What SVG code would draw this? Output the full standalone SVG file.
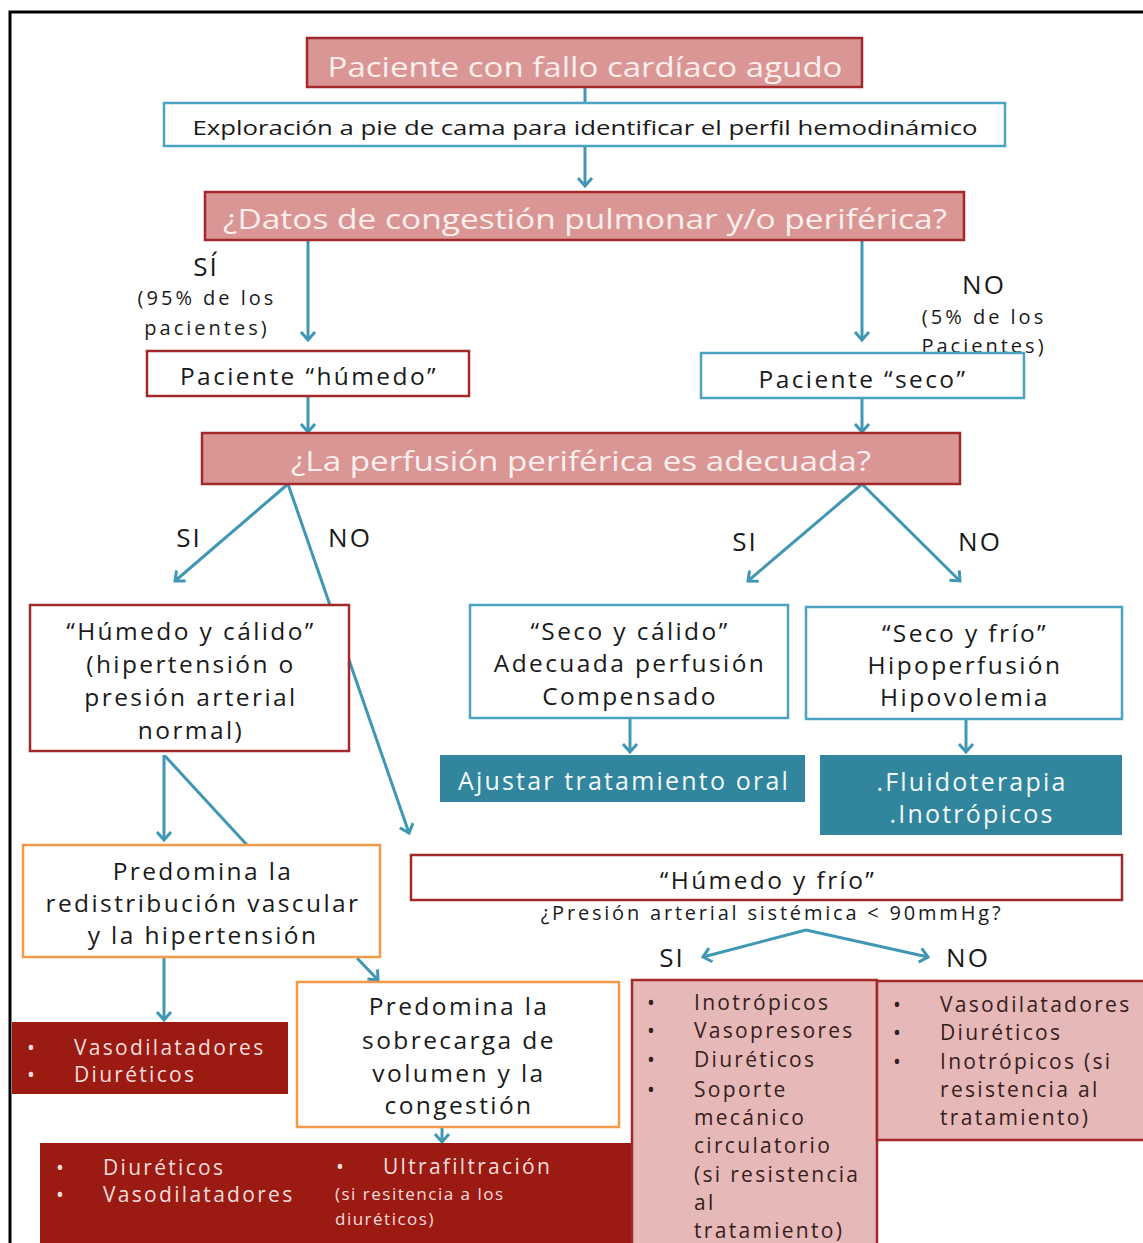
<svg xmlns="http://www.w3.org/2000/svg" width="1143" height="1243" viewBox="0 0 1143 1243">
<style>
text{font-family:"Open Sans","Noto Sans","DejaVu Sans",sans-serif;fill:#1a1a1a;letter-spacing:2.4px}
.hdr{fill:#d99694;stroke:#a3282a;stroke-width:2.5}
.hdrt{fill:#fcefee;font-size:27px;text-anchor:middle;letter-spacing:0}
.blue{fill:#fff;stroke:#4aa3c0;stroke-width:2.5}
.red{fill:#fff;stroke:#a3282a;stroke-width:2.5}
.org{fill:#fff;stroke:#f2994a;stroke-width:2.5}
.teal{fill:#31859c}
.tealt{fill:#f4fafc;font-size:25px;text-anchor:middle;letter-spacing:2.2px}
.dark{fill:#9b1a12}
.darkt{fill:#f4dedd;font-size:21px;letter-spacing:2.3px}
.pink{fill:#e6b8b7;stroke:#a3282a;stroke-width:2.5}
.pinkt{fill:#352020;font-size:21px;letter-spacing:2.3px}
.c{text-anchor:middle}
.t23{font-size:24.5px}
.lbl{font-size:26px;letter-spacing:2px}
.small{font-size:20px;letter-spacing:3px}
.tiny{font-size:17px;letter-spacing:1.5px}
.nols{letter-spacing:0}
.q{font-size:20px;letter-spacing:2.8px}
.con{stroke:#3f97b4;stroke-width:3;fill:none}
.arr{marker-end:url(#ah)}
</style>
<defs>
<marker id="ah" markerUnits="userSpaceOnUse" markerWidth="16" markerHeight="18" refX="10" refY="9" orient="auto">
<path d="M2,2 L10,9 L2,16" fill="none" stroke="#3f97b4" stroke-width="3"/>
</marker>
</defs>
<rect width="1143" height="1243" fill="#fff"/>
<path d="M10,1243 L10,12 L1143,12" fill="none" stroke="#000" stroke-width="3"/>

<g id="connectors">
<line class="con" x1="585" y1="87" x2="585" y2="103"/>
<line class="con arr" x1="585" y1="146" x2="585" y2="186"/>
<line class="con arr" x1="308" y1="240" x2="308" y2="340"/>
<line class="con arr" x1="862" y1="240" x2="862" y2="340"/>
<line class="con arr" x1="308" y1="396" x2="308" y2="432"/>
<line class="con arr" x1="862" y1="398" x2="862" y2="432"/>
<line class="con arr" x1="288" y1="484" x2="175" y2="581"/>
<line class="con arr" x1="288" y1="484" x2="409" y2="833"/>
<line class="con arr" x1="862" y1="484" x2="748" y2="581"/>
<line class="con arr" x1="862" y1="484" x2="960" y2="581"/>
<line class="con arr" x1="630" y1="718" x2="630" y2="752"/>
<line class="con arr" x1="966" y1="719" x2="966" y2="752"/>
<line class="con arr" x1="164" y1="755" x2="164" y2="840"/>
<line class="con" x1="165" y1="756" x2="247" y2="845"/>
<line class="con arr" x1="164" y1="958" x2="164" y2="1020"/>
<line class="con arr" x1="357" y1="958" x2="378" y2="980"/>
<line class="con arr" x1="442" y1="1127" x2="442" y2="1142"/>
<line class="con arr" x1="806" y1="930" x2="703" y2="957"/>
<line class="con arr" x1="806" y1="930" x2="928" y2="957"/>
</g>

<g id="n-fallo">
<rect class="hdr" x="307" y="38" width="555" height="49"/>
<text class="hdrt" x="585" y="77" textLength="515" lengthAdjust="spacingAndGlyphs">Paciente con fallo cardíaco agudo</text>
</g>
<g id="n-exploracion">
<rect class="blue" x="164" y="103" width="841" height="43"/>
<text class="c nols" x="585" y="135" font-size="20" textLength="785" lengthAdjust="spacingAndGlyphs">Exploración a pie de cama para identificar el perfil hemodinámico</text>
</g>
<g id="n-congestion">
<rect class="hdr" x="205" y="192" width="759" height="48"/>
<text class="hdrt" x="585" y="229" textLength="724" lengthAdjust="spacingAndGlyphs">¿Datos de congestión pulmonar y/o periférica?</text>
</g>
<g id="lbl-si-top">
<text class="c lbl" x="206" y="276">SÍ</text>
<text class="c small" x="207" y="305">(95% de los</text>
<text class="c small" x="207" y="335">pacientes)</text>
</g>
<g id="lbl-no-top">
<text class="c lbl" x="984" y="294">NO</text>
<text class="c small" x="984" y="324">(5% de los</text>
<text class="c small" x="984" y="353">Pacientes)</text>
</g>
<g id="n-humedo">
<rect class="red" x="147" y="351" width="322" height="45"/>
<text class="c t23" x="309" y="385">Paciente “húmedo”</text>
</g>
<g id="n-seco">
<rect class="blue" x="701" y="353" width="323" height="45"/>
<text class="c t23" x="863" y="388">Paciente “seco”</text>
</g>
<g id="n-perfusion">
<rect class="hdr" x="202" y="433" width="758" height="51"/>
<text class="hdrt" x="581" y="471" textLength="580" lengthAdjust="spacingAndGlyphs">¿La perfusión periférica es adecuada?</text>
</g>
<g id="lbls-perf">
<text class="c lbl" x="189" y="547">SI</text>
<text class="c lbl" x="350" y="547">NO</text>
<text class="c lbl" x="745" y="551">SI</text>
<text class="c lbl" x="980" y="551">NO</text>
</g>
<g id="n-humedo-calido">
<rect class="red" x="30" y="605" width="319" height="146"/>
<text class="c t23" x="191" y="640">“Húmedo y cálido”</text>
<text class="c t23" x="191" y="673">(hipertensión o</text>
<text class="c t23" x="191" y="706">presión arterial</text>
<text class="c t23" x="191" y="739">normal)</text>
</g>
<g id="n-seco-calido">
<rect class="blue" x="470" y="605" width="318" height="113"/>
<text class="c t23" x="630" y="640">“Seco y cálido”</text>
<text class="c t23" x="630" y="672">Adecuada perfusión</text>
<text class="c t23" x="630" y="705">Compensado</text>
</g>
<g id="n-seco-frio">
<rect class="blue" x="806" y="607" width="316" height="112"/>
<text class="c t23" x="965" y="642">“Seco y frío”</text>
<text class="c t23" x="965" y="674">Hipoperfusión</text>
<text class="c t23" x="965" y="706">Hipovolemia</text>
</g>
<g id="n-ajustar">
<rect class="teal" x="440" y="755" width="365" height="47"/>
<text class="tealt" x="624" y="790">Ajustar tratamiento oral</text>
</g>
<g id="n-fluido">
<rect class="teal" x="820" y="755" width="302" height="80"/>
<text class="tealt" x="972" y="791">.Fluidoterapia</text>
<text class="tealt" x="972" y="823">.Inotrópicos</text>
</g>
<g id="n-redistribucion">
<rect class="org" x="23" y="845" width="357" height="112"/>
<text class="c t23" x="203" y="880">Predomina la</text>
<text class="c t23" x="203" y="912">redistribución vascular</text>
<text class="c t23" x="203" y="944">y la hipertensión</text>
</g>
<g id="n-humedo-frio">
<rect class="red" x="411" y="855" width="711" height="45"/>
<text class="c t23" x="768" y="889">“Húmedo y frío”</text>
<text class="c q" x="772" y="920">¿Presión arterial sistémica &lt; 90mmHg?</text>
</g>
<g id="lbls-presion">
<text class="c lbl" x="672" y="967">SI</text>
<text class="c lbl" x="968" y="967">NO</text>
</g>
<g id="n-trat-redistribucion">
<rect class="dark" x="12" y="1022" width="276" height="72"/>
<text class="darkt" x="27" y="1055">•</text>
<text class="darkt" x="74" y="1055">Vasodilatadores</text>
<text class="darkt" x="27" y="1082">•</text>
<text class="darkt" x="74" y="1082">Diuréticos</text>
</g>
<g id="n-sobrecarga">
<rect class="org" x="297" y="982" width="322" height="145"/>
<text class="c t23" x="459" y="1015">Predomina la</text>
<text class="c t23" x="459" y="1049">sobrecarga de</text>
<text class="c t23" x="459" y="1082">volumen y la</text>
<text class="c t23" x="459" y="1114">congestión</text>
</g>
<g id="n-trat-sobrecarga">
<rect class="dark" x="40" y="1143" width="594" height="100"/>
<text class="darkt" x="56" y="1175">•</text>
<text class="darkt" x="103" y="1175">Diuréticos</text>
<text class="darkt" x="56" y="1202">•</text>
<text class="darkt" x="103" y="1202">Vasodilatadores</text>
<text class="darkt" x="336" y="1174">•</text>
<text class="darkt" x="383" y="1174">Ultrafiltración</text>
<text class="darkt tiny" x="335" y="1200">(si resitencia a los</text>
<text class="darkt tiny" x="335" y="1225">diuréticos)</text>
</g>
<g id="n-trat-si">
<rect class="pink" x="632" y="980" width="245" height="270"/>
<text class="pinkt" x="647" y="1010">•</text>
<text class="pinkt" x="694" y="1010">Inotrópicos</text>
<text class="pinkt" x="647" y="1038">•</text>
<text class="pinkt" x="694" y="1038">Vasopresores</text>
<text class="pinkt" x="647" y="1067">•</text>
<text class="pinkt" x="694" y="1067">Diuréticos</text>
<text class="pinkt" x="647" y="1097">•</text>
<text class="pinkt" x="694" y="1097">Soporte</text>
<text class="pinkt" x="694" y="1125">mecánico</text>
<text class="pinkt" x="694" y="1153">circulatorio</text>
<text class="pinkt" x="694" y="1182">(si resistencia</text>
<text class="pinkt" x="694" y="1210">al</text>
<text class="pinkt" x="694" y="1238">tratamiento)</text>
</g>
<g id="n-trat-no">
<rect class="pink" x="877" y="981" width="280" height="159"/>
<text class="pinkt" x="893" y="1012">•</text>
<text class="pinkt" x="940" y="1012">Vasodilatadores</text>
<text class="pinkt" x="893" y="1040">•</text>
<text class="pinkt" x="940" y="1040">Diuréticos</text>
<text class="pinkt" x="893" y="1069">•</text>
<text class="pinkt" x="940" y="1069">Inotrópicos (si</text>
<text class="pinkt" x="940" y="1097">resistencia al</text>
<text class="pinkt" x="940" y="1125">tratamiento)</text>
</g>
</svg>
